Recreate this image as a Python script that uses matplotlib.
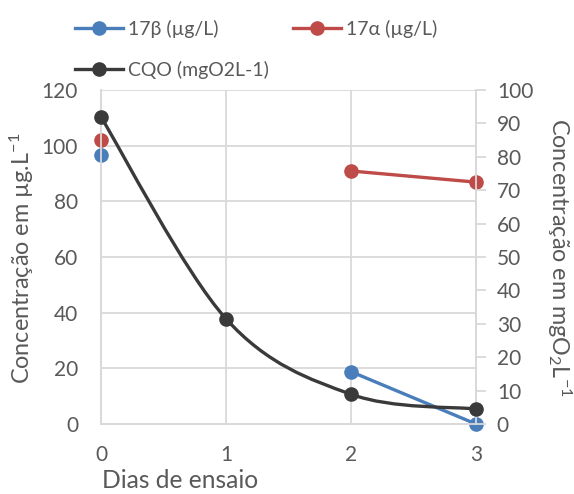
import numpy as np
import matplotlib
matplotlib.use("Agg")
import matplotlib.pyplot as plt
from matplotlib.path import Path
from matplotlib.patches import PathPatch
from matplotlib.lines import Line2D

days = [0, 1, 2, 3]
beta = [96.5, np.nan, 18.8, 0.0]        # 17β (µg/L), left axis
alpha = [102.0, np.nan, 90.9, 86.9]     # 17α (µg/L), left axis
cqo = [91.9, 31.5, 8.9, 4.5]            # CQO (mgO2L-1), right axis
xticks = [0, 1, 2, 3]
left_ticks = [0, 20, 40, 60, 80, 100, 120]
right_ticks = [0, 10, 20, 30, 40, 50, 60, 70, 80, 90, 100]

plt.rcParams['font.family'] = ['Lato', 'DejaVu Sans']
plt.rcParams['mathtext.fontset'] = 'custom'
plt.rcParams['mathtext.rm'] = 'Lato'
plt.rcParams['mathtext.it'] = 'Lato'
TXT = '#595959'
GRID = '#d9d9d9'
BLUE = '#4a7ebb'
RED = '#be4b48'
DARK = '#3a3a3a'

W, H = 574, 494
fig = plt.figure(figsize=(W/100, H/100), dpi=100)
ax = fig.add_axes([101/W, 70/H, 375/W, 334/H])
ax2 = ax.twinx()

ax.set_xlim(0, 3)
ax.set_ylim(0, 120)
ax2.set_ylim(0, 100)
ax.set_xticks(xticks)
ax.set_yticks(left_ticks)
ax2.set_yticks(right_ticks)
ax.grid(True, color=GRID, lw=1.3)
ax.set_axisbelow(True)
for a in (ax, ax2):
    a.spines['top'].set_visible(False)
    for s in ('left', 'right', 'bottom'):
        a.spines[s].set_color(GRID)
        a.spines[s].set_linewidth(1.3)
ax.tick_params(axis='y', length=0, labelsize=15, colors=TXT, pad=16.5)
ax.tick_params(axis='x', length=0, labelsize=15, colors=TXT, pad=15)
ax2.tick_params(axis='y', length=7, width=1.3, color=GRID, labelsize=15, labelcolor=TXT, pad=8)

lw = 2.4
ms = 9.5
ax.plot(days, beta, color=BLUE, lw=lw, marker='o', ms=ms, clip_on=False, zorder=3)
ax.plot(days, alpha, color=RED, lw=lw, marker='o', ms=ms, clip_on=False, zorder=3)

# Smoothed CQO line (Catmull-Rom style Bezier through the data points)
pts = np.column_stack([days, cqo]).astype(float)
n = len(pts)
verts = [pts[0]]
codes = [Path.MOVETO]
for i in range(n - 1):
    p0 = pts[i - 1] if i > 0 else pts[i]
    p1 = pts[i]
    p2 = pts[i + 1]
    p3 = pts[i + 2] if i + 2 < n else pts[i + 1]
    c1 = p1 + (p2 - p0) / 6.0
    c2 = p2 - (p3 - p1) / 6.0
    verts += [c1, c2, p2]
    codes += [Path.CURVE4] * 3
patch = PathPatch(Path(verts, codes), facecolor='none', edgecolor=DARK, lw=lw, zorder=3, clip_on=False)
ax2.add_patch(patch)
ax2.plot(days, cqo, linestyle='none', color=DARK, marker='o', ms=ms, clip_on=False, zorder=4)

renderer = fig.canvas.get_renderer()

def fit(t, target, dim):
    for _ in range(3):
        bb = t.get_window_extent(renderer)
        cur = bb.width if dim == 'w' else bb.height
        t.set_fontsize(t.get_fontsize() * target / cur)
    return t

lab_l = fig.text(22/W, 1 - 258/H, 'Concentração em µg.L$^{-1}$', fontsize=16, color=TXT,
                 rotation=90, ha='center', va='center')
fit(lab_l, 252, 'h')
lab_r = fig.text(559/W, 1 - 257.5/H, 'Concentração em mgO$_2$L$^{-1}$', fontsize=16, color=TXT,
                 rotation=-90, ha='center', va='center')
fit(lab_r, 279, 'h')
lab_x = fig.text(180/W, 1 - 480/H, 'Dias de ensaio', fontsize=16, color=TXT, ha='center', va='center')
fit(lab_x, 156, 'w')

# legend font size fitted to reference text width
probe = fig.text(0, 0, '17β (µg/L)', fontsize=15)
fit(probe, 90, 'w')
lfs = probe.get_fontsize()
probe.remove()
px = lfs * 100 / 72

def entry(handle, label, x, y):
    lg = fig.legend([handle], [label], loc='center left', bbox_to_anchor=(x/W, 1 - y/H),
                    frameon=False, fontsize=lfs, labelcolor=TXT, handlelength=48/px,
                    handletextpad=5/px, borderpad=0, borderaxespad=0)
    return lg

entry(Line2D([], [], color=BLUE, lw=lw, marker='o', ms=ms), '17β (µg/L)', 75, 29)
entry(Line2D([], [], color=RED, lw=lw, marker='o', ms=ms), '17α (µg/L)', 293, 29)
entry(Line2D([], [], color=DARK, lw=lw, marker='o', ms=ms), 'CQO (mgO2L-1)', 75, 70)

fig.savefig('out.png', dpi=100)
